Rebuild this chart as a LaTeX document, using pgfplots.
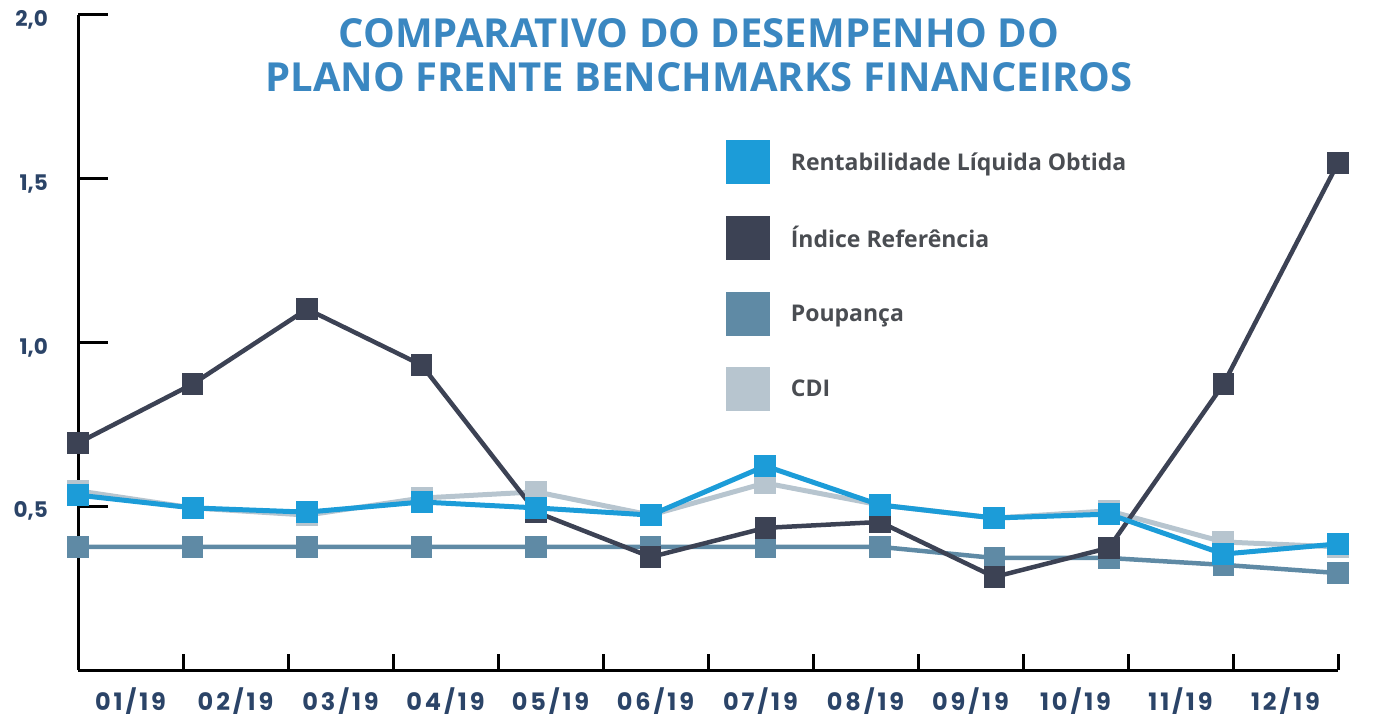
\documentclass[border=0pt]{standalone}
\usepackage{pgfplots}
\pgfplotsset{compat=1.18}
\usepackage{fontspec}
\setmainfont{Open Sans}
\newfontfamily\titlefont{Open Sans}
\newfontfamily\tickfont{Poppins}
\newfontfamily\xtickfont[LetterSpace=12]{Poppins}
\definecolor{cRent}{HTML}{1C9CD8}
\definecolor{cInd}{HTML}{3C4254}
\definecolor{cPou}{HTML}{5F8AA5}
\definecolor{cCDI}{HTML}{B7C5CF}
\definecolor{cTick}{HTML}{2B4468}
\definecolor{cTitle}{HTML}{3A87C1}
\definecolor{cLeg}{HTML}{4A4D52}
\begin{document}
\begin{tikzpicture}
\useasboundingbox (0,0) rectangle (1384pt,713pt);
\begin{axis}[
  at={(78pt,43pt)}, anchor=south west,
  scale only axis, width=1260pt, height=655pt,
  xmin=0, xmax=11, ymin=0, ymax=2,
  clip=false,
  axis x line=bottom, axis y line=left,
  axis line style={-, line width=3pt, black},
  xtick align=inside, ytick align=inside,
  major tick length=30pt, minor tick length=16pt,
  ytick={0.5,1,1.5,2},
  yticklabels={{0,5},{1,0},{1,5},{2,0}},
  xtick={0.45833,1.375,2.29167,3.20833,4.125,5.04167,5.95833,6.875,7.79167,8.70833,9.625,10.54167},
  xticklabels={01/19,02/19,03/19,04/19,05/19,06/19,07/19,08/19,09/19,10/19,11/19,12/19},
  minor xtick={0,0.91667,1.83333,2.75,3.66667,4.58333,5.5,6.41667,7.33333,8.25,9.16667,10.08333,11},
  major x tick style={draw=none},
  minor x tick style={black, line width=3pt},
  y tick style={black, line width=3pt},
  yticklabel style={font=\tickfont\bfseries\fontsize{21.5}{21.5}\selectfont, text=cTick, inner sep=0pt, xshift=-30pt, yshift=-5pt, anchor=east},
  xticklabel style={font=\xtickfont\bfseries\fontsize{24}{24}\selectfont, text=cTick, inner sep=0pt, text depth=0pt, yshift=-17pt, anchor=north},
  reverse legend=true,
  legend cell align=left,
  legend style={at={(rel axis cs:0.514,0.809)}, anchor=north west, draw=none, fill=none,
    inner sep=0pt, row sep=31.7pt, column sep=21pt,
    nodes={inner sep=0pt, text=cLeg, font=\bfseries\fontsize{23}{23}\selectfont}},
  legend image code/.code={\fill[draw=none] (0pt,-22pt) rectangle (44pt,22pt);},
  every axis plot/.append style={mark=square*, mark size=8.5pt, mark options={draw=none}},
]
\addplot[color=cCDI, line width=5pt] coordinates {
(0,0.547) (1,0.495) (2,0.473) (3,0.525) (4,0.544) (5,0.473)
(6,0.571) (7,0.504) (8,0.464) (9,0.486) (10,0.391) (11,0.376)};
\addlegendentry{CDI}
\addplot[color=cPou, line width=4.5pt] coordinates {
(0,0.376) (1,0.376) (2,0.376) (3,0.376) (4,0.376) (5,0.376)
(6,0.376) (7,0.376) (8,0.342) (9,0.342) (10,0.321) (11,0.296)};
\addlegendentry{Poupança}
\addplot[color=cInd, line width=4.5pt] coordinates {
(0,0.693) (1,0.873) (2,1.102) (3,0.931) (4,0.482) (5,0.345)
(6,0.434) (7,0.452) (8,0.284) (9,0.373) (10,0.873) (11,1.548)};
\addlegendentry{Índice Referência}
\addplot[color=cRent, line width=5pt] coordinates {
(0,0.534) (1,0.495) (2,0.482) (3,0.513) (4,0.495) (5,0.473)
(6,0.623) (7,0.504) (8,0.464) (9,0.476) (10,0.354) (11,0.385)};
\addlegendentry{Rentabilidade Líquida Obtida}
\end{axis}
\node[anchor=base, font=\titlefont\bfseries\fontsize{40}{40}\selectfont, text=cTitle] at (699pt,665pt) {COMPARATIVO DO DESEMPENHO DO};
\node[anchor=base, font=\titlefont\bfseries\fontsize{40}{40}\selectfont, text=cTitle] at (699pt,621pt) {PLANO FRENTE BENCHMARKS FINANCEIROS};
\end{tikzpicture}
\end{document}
